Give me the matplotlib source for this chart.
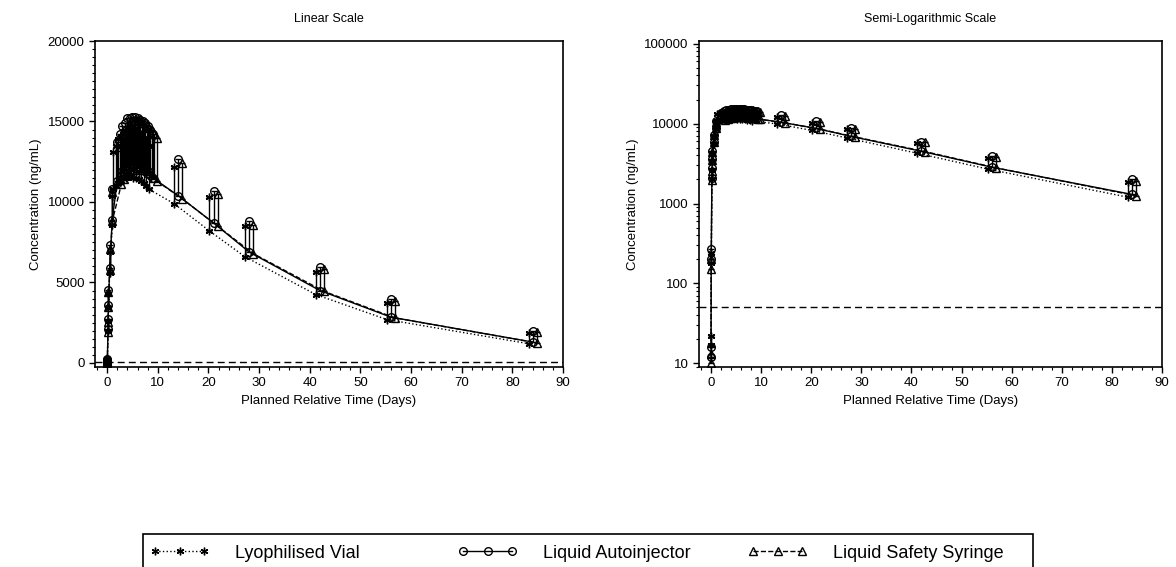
import numpy as np
import matplotlib
matplotlib.use('Agg')
import matplotlib.pyplot as plt
from matplotlib.ticker import MultipleLocator, LogLocator, NullFormatter
from matplotlib.patches import Rectangle

plt.rcParams['font.family'] = ['Liberation Sans', 'DejaVu Sans']

# Data (mean and upper SD, ng/mL)
days = [0.0, 0.04, 0.17, 0.25, 0.5, 1,
        2, 2.5, 3, 3.5, 4, 4.5, 5, 5.5, 6, 6.5, 7, 7.5, 8, 8.5, 9,
        14, 21, 28, 42, 56, 84]

vial_mean = [17, 180, 2000, 3400, 5600, 8600,
             10800, 11000, 11200, 11300, 11500, 11500, 11600, 11600, 11500, 11500, 11400, 11300, 11200, 11000, 10800,
             9900, 8200, 6600, 4250, 2700, 1200]
vial_sd = [5, 60, 600, 900, 1300, 1800,
           2300, 2500, 2700, 2800, 2900, 2900, 3000, 3000, 3000, 3000, 2900, 2900, 2800, 2700, 2700,
           2300, 2100, 1900, 1400, 1000, 650]

auto_mean = [12, 200, 2100, 3600, 5900, 8900,
             11300, 11600, 11900, 12000, 12200, 12200, 12300, 12300, 12200, 12200, 12100, 12000, 11900, 11700, 11500,
             10400, 8700, 6900, 4500, 2850, 1300]
auto_sd = [4, 70, 650, 950, 1400, 1900,
           2400, 2600, 2800, 2900, 3000, 3000, 3000, 3000, 3000, 2900, 2900, 2900, 2800, 2800, 2700,
           2300, 2000, 1900, 1450, 1100, 700]

syr_mean = [10, 150, 1950, 3500, 5800, 8800,
            11100, 11400, 11700, 11800, 12000, 12000, 12100, 12100, 12000, 12000, 11900, 11800, 11700, 11500, 11300,
            10200, 8500, 6800, 4450, 2800, 1250]
syr_sd = [3, 50, 600, 900, 1300, 1800,
          2300, 2600, 2800, 2900, 3000, 3000, 3000, 3000, 2900, 2900, 2900, 2800, 2800, 2700, 2700,
          2200, 2000, 1800, 1400, 1050, 680]

lloq = 50

groups = [
    ('Lyophilised Vial', vial_mean, vial_sd, ':', (6, 2, 0), -0.8),
    ('Liquid Autoinjector', auto_mean, auto_sd, '-', 'o', 0.0),
    ('Liquid Safety Syringe', syr_mean, syr_sd, '--', '^', 0.8),
]

fig = plt.figure(figsize=(11.76, 5.67), dpi=100)
ax1 = fig.add_axes([95 / 1176, 1 - 367 / 567, 468 / 1176, 326 / 567])
ax2 = fig.add_axes([699 / 1176, 1 - 367 / 567, 463 / 1176, 326 / 567])

t = np.array(days)
handles = []
for ax, log in [(ax1, False), (ax2, True)]:
    for name, mean, sd, ls, mk, off in groups:
        x = t + np.where(t >= 2, off, 0.0)
        m = np.array(mean, dtype=float)
        s = np.array(sd, dtype=float)
        ax.errorbar(x, m, yerr=[np.zeros_like(s), s], fmt='none', ecolor='black',
                    elinewidth=1.0, capsize=2.5, capthick=1.0)
        ax.plot(x, m + s, linestyle='none', marker=mk, ms=5.5, mfc='none', mec='black', mew=1.0)
        h, = ax.plot(x, m, color='black', linestyle=ls, linewidth=1.0, marker=mk, ms=5.5,
                     mfc='none', mec='black', mew=1.0, label=name)
        if not log:
            handles.append(h)
    ax.axhline(lloq, color='black', linestyle=(0, (5, 3)), linewidth=1.0)

    ax.set_xlim(-2.4, 90)
    ax.xaxis.set_major_locator(MultipleLocator(10))
    ax.xaxis.set_minor_locator(MultipleLocator(2))
    ax.set_xlabel('Planned Relative Time (Days)', fontsize=9.5)
    ax.set_ylabel('Concentration (ng/mL)', fontsize=9.5)
    ax.tick_params(which='major', direction='out', length=4, width=1, labelsize=9.5)
    ax.tick_params(which='minor', direction='out', length=2, width=0.8)
    for sp in ax.spines.values():
        sp.set_linewidth(1.2)

ax1.set_ylim(-250, 20000)
ax1.yaxis.set_major_locator(MultipleLocator(5000))
ax1.yaxis.set_minor_locator(MultipleLocator(500))
ax1.set_title('Linear Scale', fontsize=9, pad=14)

ax2.set_yscale('log')
ax2.set_ylim(9, 108000)
ax2.set_yticks([10, 100, 1000, 10000, 100000])
ax2.set_yticklabels(['10', '100', '1000', '10000', '100000'])
ax2.yaxis.set_minor_locator(LogLocator(base=10, subs=np.arange(2, 10), numticks=20))
ax2.yaxis.set_minor_formatter(NullFormatter())
ax2.set_title('Semi-Logarithmic Scale', fontsize=9, pad=14)

# Legend box (runs off the bottom edge like the source)
fig.patches.append(Rectangle((143 / 1176, -0.05), (1033 - 143) / 1176, 0.05 + 1 - 534 / 567,
                             transform=fig.transFigure, fill=False, edgecolor='black',
                             linewidth=1.2))
for h, xpos in zip(handles, [150, 458, 748]):
    fig.legend(handles=[h], loc='center left', bbox_to_anchor=(xpos / 1176, 1 - 553 / 567),
               fontsize=13, numpoints=3, handlelength=3.3, handletextpad=1.4,
               frameon=False, borderaxespad=0, borderpad=0)

fig.savefig('out.png', dpi=100)
